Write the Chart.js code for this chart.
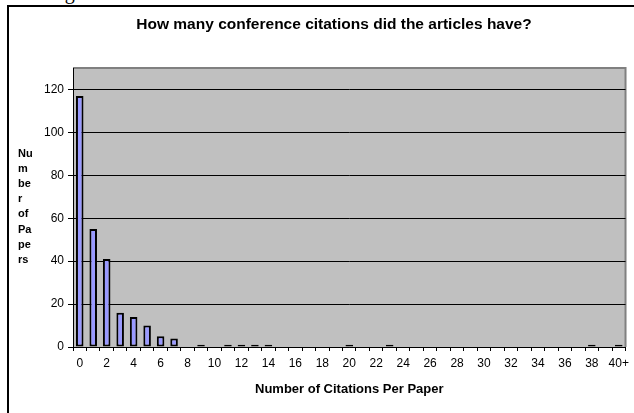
<!DOCTYPE html>
<html>
<head>
<meta charset="utf-8">
<script src="https://cdn.jsdelivr.net/npm/chart.js@4"></script>
<style>
  html, body { margin: 0; padding: 0; background: #fff; overflow: hidden; }
  #page { position: relative; width: 634px; height: 413px; overflow: hidden; }
  #frame { position: absolute; left: 7px; top: 5px; width: 660px; height: 440px; border: 2px solid #000; box-sizing: border-box; }
  #caption { position: absolute; left: 48px; top: -18px; font: 20px "Liberation Serif", "Times New Roman", serif; line-height: 20px; white-space: nowrap; color: #000; }
  #chart { position: absolute; left: 0; top: 0; }
</style>
</head>
<body>
<div id="page">
  <div id="caption">Figure 3: Number of Conference Citations</div>
  <div id="frame"></div>
  <canvas id="chart" width="634" height="413"></canvas>
</div>
<script>
// citation counts per paper (0 .. 40+)
const categories = ['0', '1', '2', '3', '4', '5', '6', '7', '8', '9',
    '10', '11', '12', '13', '14', '15', '16', '17', '18', '19',
    '20', '21', '22', '23', '24', '25', '26', '27', '28', '29',
    '30', '31', '32', '33', '34', '35', '36', '37', '38', '39', '40+'];
const paperCounts = [117, 55, 41, 16, 14, 10, 5, 4, 0, 1,
    0, 1, 1, 1, 1, 0, 0, 0, 0, 0,
    1, 0, 0, 1, 0, 0, 0, 0, 0, 0,
    0, 0, 0, 0, 0, 0, 0, 0, 1, 0, 1];
const yTitleLines = ['Nu', 'm', 'be', 'r', 'of', 'Pa', 'pe', 'rs'];

const plotArea = {
    id: 'plotArea',
    beforeDraw(chart) {
        const { ctx, chartArea: a } = chart;
        ctx.save();
        ctx.fillStyle = '#c0c0c0';
        ctx.fillRect(a.left, a.top, a.right - a.left, a.bottom - a.top);
        ctx.strokeStyle = '#808080';
        ctx.lineWidth = 2;
        ctx.beginPath();
        ctx.moveTo(a.left, a.top);
        ctx.lineTo(a.right, a.top);
        ctx.lineTo(a.right, a.bottom);
        ctx.stroke();
        ctx.restore();
    },
    afterDraw(chart) {
        // stacked y axis title, like the original
        const ctx = chart.ctx;
        ctx.save();
        ctx.fillStyle = '#000';
        ctx.font = 'bold 11px "Liberation Sans", Arial, sans-serif';
        ctx.textBaseline = 'middle';
        ctx.textAlign = 'left';
        yTitleLines.forEach((t, i) => ctx.fillText(t, 18, 154 + i * 15.1));
        ctx.restore();
    }
};

const sans = '"Liberation Sans", Arial, sans-serif';

new Chart(document.getElementById('chart').getContext('2d'), {
    type: 'bar',
    data: {
        labels: categories,
        datasets: [{
            label: 'Number of Papers',
            data: paperCounts,
            backgroundColor: '#9999ff',
            borderColor: '#000',
            borderWidth: 2,
            borderSkipped: false,
            barPercentage: 0.56,
            categoryPercentage: 1
        }]
    },
    options: {
        responsive: false,
        animation: false,
        layout: { padding: { left: 37, right: 3, top: 0, bottom: 0 } },
        plugins: {
            legend: { display: false },
            tooltip: { enabled: false },
            title: {
                display: true,
                text: 'How many conference citations did the articles have?',
                color: '#000',
                font: { family: sans, size: 15.5, weight: 'bold' },
                padding: { top: 15, bottom: 34.4 }
            }
        },
        scales: {
            x: {
                grid: { display: true, drawOnChartArea: false, drawTicks: true, tickLength: 4, color: '#000', offset: true },
                border: { color: '#000', width: 1 },
                ticks: {
                    autoSkip: false,
                    maxRotation: 0,
                    padding: 5,
                    color: '#000',
                    font: { family: sans, size: 12 },
                    callback: (v, i) => i % 2 === 0 ? categories[i] : ''
                },
                title: {
                    display: true,
                    text: 'Number of Citations Per Paper',
                    color: '#000',
                    font: { family: sans, size: 13, weight: 'bold' },
                    padding: { top: 6, bottom: 16 }
                }
            },
            y: {
                min: 0,
                max: 130,
                afterFit: (scale) => { scale.width = 36; },
                grid: { color: '#000', lineWidth: 1, tickLength: 5 },
                border: { color: '#000', width: 1 },
                ticks: {
                    stepSize: 20,
                    includeBounds: false,
                    padding: 4,
                    color: '#000',
                    font: { family: sans, size: 12 }
                }
            }
        }
    },
    plugins: [plotArea]
});
</script>
</body>
</html>
